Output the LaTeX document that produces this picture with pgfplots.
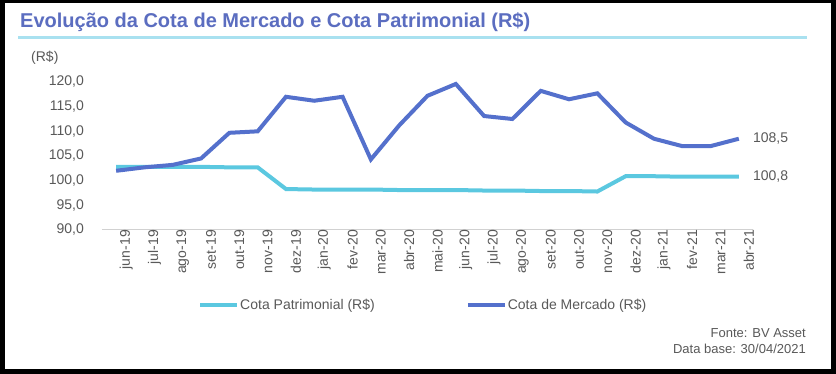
\documentclass[border=0pt]{standalone}
\usepackage{pgfplots}
\pgfplotsset{compat=1.18}
\usepackage{fontspec}
\setmainfont{Liberation Sans}
\definecolor{mercado}{HTML}{5470CC}
\definecolor{patri}{HTML}{5BC8E0}
\definecolor{titlec}{HTML}{5B6DC0}
\definecolor{rulec}{HTML}{A9E1F0}
\definecolor{txt}{HTML}{595959}
\pgfplotstableread{
x merc pat
0 102.0 102.8
1 102.7 102.8
2 103.2 102.8
3 104.5 102.8
4 109.7 102.7
5 110.0 102.7
6 117.0 98.3
7 116.2 98.2
8 117.0 98.2
9 104.3 98.2
10 111.2 98.1
11 117.2 98.1
12 119.6 98.1
13 113.1 98.0
14 112.5 98.0
15 118.2 97.9
16 116.5 97.9
17 117.7 97.8
18 111.8 100.9
19 108.5 100.9
20 107.0 100.8
21 107.0 100.8
22 108.5 100.8
}\datatab
\begin{document}
\begin{tikzpicture}
\fill[black] (0pt,0pt) rectangle (836pt,374pt);
\fill[white] (5pt,5pt) rectangle (831pt,371pt);
\node[anchor=west,inner sep=0pt,text=titlec,font=\fontsize{20}{22}\selectfont\bfseries] at (20pt,352pt) {Evolução da Cota de Mercado e Cota Patrimonial (R\$)};
\fill[rulec] (18pt,335pt) rectangle (807pt,337.5pt);
\node[anchor=west,inner sep=0pt,text=txt,font=\fontsize{14}{16}\selectfont] at (31pt,316pt) {(R\$)};
\node[anchor=east,inner sep=0pt,text=txt,font=\fontsize{13}{15}\selectfont] at (806pt,41pt) {Fonte: BV Asset};
\node[anchor=east,inner sep=0pt,text=txt,font=\fontsize{13}{15}\selectfont] at (806pt,25pt) {Data base: 30/04/2021};
\begin{axis}[
  at={(102pt,144pt)}, anchor=south west,
  scale only axis, width=651pt, height=148pt,
  xmin=-0.5, xmax=22.5, ymin=90, ymax=120,
  axis x line*=bottom, axis y line*=left,
  x axis line style={-, draw=black!18, line width=1pt},
  y axis line style={draw=none},
  tick style={draw=none},
  xtick=data,
  xticklabels={jun-19,jul-19,ago-19,set-19,out-19,nov-19,dez-19,jan-20,fev-20,mar-20,abr-20,mai-20,jun-20,jul-20,ago-20,set-20,out-20,nov-20,dez-20,jan-21,fev-21,mar-21,abr-21},
  ytick={90,95,...,120},
  xticklabel style={rotate=90, anchor=east, font=\fontsize{14}{16}\selectfont, text=txt, inner sep=0pt, yshift=-10pt},
  yticklabel style={font=\fontsize{14}{16}\selectfont, text=txt, inner sep=0pt, xshift=-18pt},
  /pgf/number format/.cd, fixed, fixed zerofill, precision=1, use comma, assume math mode=true,
  /pgfplots/.cd,
  clip=false,
  legend columns=2,
  legend style={at={(0.1475,-0.507)}, anchor=west, draw=none, fill=none, inner sep=0pt,
    font=\fontsize{14}{16}\selectfont, text=txt,
    /tikz/every even column/.append style={column sep=90pt},
    nodes={inner sep=1pt}},
  legend image code/.code={\draw[#1, line width=4pt] (0pt,0pt) -- (37pt,0pt);},
]
\addplot[patri, line width=4pt] table[x=x,y=pat] {\datatab};
\addlegendentry{Cota Patrimonial (R\$)}
\addplot[mercado, line width=4pt] table[x=x,y=merc] {\datatab};
\addlegendentry{Cota de Mercado (R\$)}
\node[anchor=west, inner sep=0pt, text=txt, font=\fontsize{14}{16}\selectfont, xshift=14pt] at (axis cs:22,108.5) {108,5};
\node[anchor=west, inner sep=0pt, text=txt, font=\fontsize{14}{16}\selectfont, xshift=14pt] at (axis cs:22,100.8) {100,8};
\end{axis}
\end{tikzpicture}
\end{document}
